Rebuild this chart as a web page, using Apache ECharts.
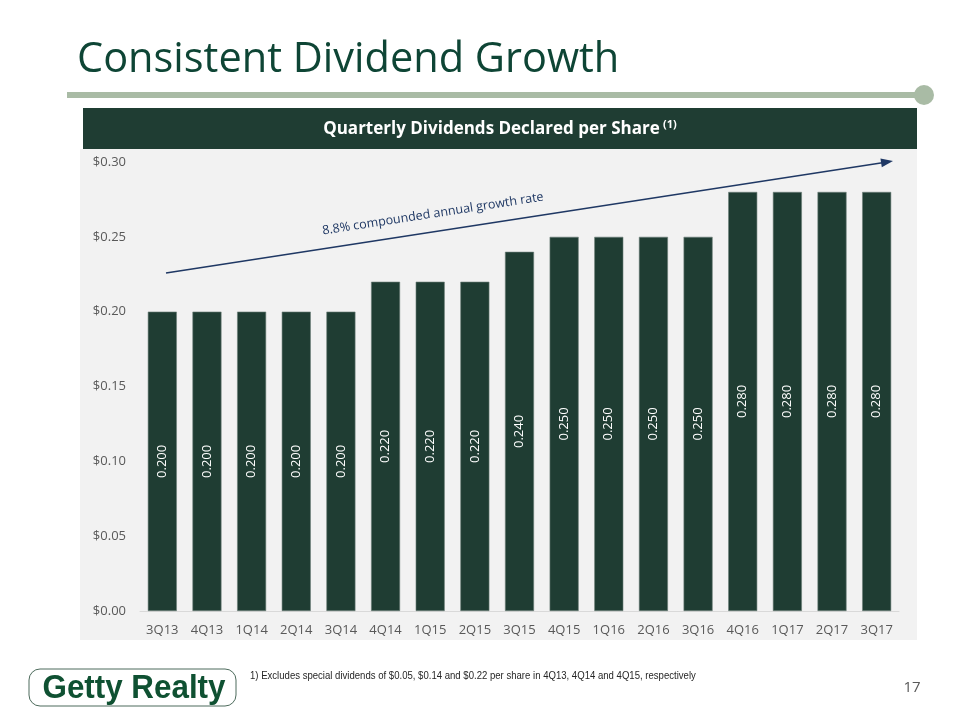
<!DOCTYPE html>
<html>
<head>
<meta charset="utf-8">
<script src="https://cdn.jsdelivr.net/npm/echarts@6/dist/echarts.min.js"></script>
<style>
html,body{margin:0;padding:0;background:#fff;}
#chart{width:960px;height:720px;}
</style>
</head>
<body>
<div id="chart"></div>
<script>
var categories = ['3Q13','4Q13','1Q14','2Q14','3Q14','4Q14','1Q15','2Q15','3Q15','4Q15','1Q16','2Q16','3Q16','4Q16','1Q17','2Q17','3Q17'];
var dividends = [0.200,0.200,0.200,0.200,0.200,0.220,0.220,0.220,0.240,0.250,0.250,0.250,0.250,0.280,0.280,0.280,0.280];
var yTicks = [0, 0.05, 0.10, 0.15, 0.20, 0.25, 0.30];
var titleText = 'Consistent Dividend Growth';
var panelTitle = 'Quarterly Dividends Declared per Share';
var growthText = '8.8% compounded annual growth rate';
var footnote = '1) Excludes special dividends of $0.05, $0.14 and $0.22 per share in 4Q13, 4Q14 and 4Q15, respectively';
var pageNum = '17';

var chart = echarts.init(document.getElementById('chart'), null, {renderer:'canvas'});
var ang = Math.atan2(273-161, 893-166);

var option = {
  animation: false,
  backgroundColor: '#ffffff',
  grid: {left: 140, right: 61, top: 162, bottom: 109, containLabel: false},
  xAxis: {
    type: 'category',
    data: categories,
    axisLine: {show: true, lineStyle: {color: '#d9d9d9', width: 1}},
    axisTick: {show: false},
    axisLabel: {color: '#595959', fontFamily: 'Open Sans', fontSize: 13, margin: 13, interval: 0}
  },
  yAxis: {
    type: 'value',
    min: yTicks[0],
    max: yTicks[yTicks.length-1],
    interval: 0.05,
    axisLine: {show: false},
    axisTick: {show: false},
    splitLine: {show: false},
    axisLabel: {color: '#595959', fontFamily: 'Open Sans', fontSize: 13, margin: 14,
      formatter: function(v){ return '$' + v.toFixed(2); }}
  },
  series: [{
    type: 'bar',
    data: dividends,
    barWidth: '65%',
    itemStyle: {color: '#1f3d33', borderColor: '#6d7f78', borderWidth: 0.6},
    label: {
      show: true, position: 'inside', rotate: 90,
      color: '#ffffff', fontFamily: 'Open Sans', fontSize: 13,
      formatter: function(p){ return p.value.toFixed(3); }
    },
    z: 3
  }],
  graphic: [
    {type:'rect', z:-10, shape:{x:80, y:149, width:837, height:491}, style:{fill:'#f2f2f2'}},
    {type:'rect', z:0, shape:{x:83, y:108, width:834, height:41}, style:{fill:'#1f3d33'}},
    {type:'text', z:1, x: 500, y: 129,
      style:{text: '{a|' + panelTitle + '} {s|(1)}', align:'center', verticalAlign:'middle', rich:{
        a:{fill:'#ffffff', fontFamily:'Open Sans', fontWeight:'bold', fontSize:17},
        s:{fill:'#ffffff', fontFamily:'Open Sans', fontWeight:'bold', fontSize:11, padding:[0,0,8,0]}
      }}},
    {type:'text', z:1, x: 77, y: 60,
      style:{text: titleText, fill:'#0e4535', fontFamily:'Open Sans', fontSize:41.5, verticalAlign:'middle'}},
    {type:'line', z:1, shape:{x1:67, y1:95, x2:922, y2:95}, style:{stroke:'#a9bba5', lineWidth:6}},
    {type:'circle', z:2, shape:{cx:924, cy:95, r:10}, style:{fill:'#a9bba5'}},
    {type:'line', z:5, shape:{x1:166, y1:273, x2:884, y2:162.5}, style:{stroke:'#1f3864', lineWidth:1.5}},
    {type:'polygon', z:5, shape:{points:[
      [893, 161],
      [893 - 12*Math.cos(ang) - 4.5*Math.sin(ang), 161 + 12*Math.sin(ang) - 4.5*Math.cos(ang)],
      [893 - 12*Math.cos(ang) + 4.5*Math.sin(ang), 161 + 12*Math.sin(ang) + 4.5*Math.cos(ang)]
    ]}, style:{fill:'#1f3864'}},
    {type:'text', z:5, x: 433, y: 214, rotation: ang,
      style:{text: growthText, fill:'#1f3864', fontFamily:'Open Sans', fontSize:12.5, align:'center', verticalAlign:'middle'}},
    {type:'rect', z:1, shape:{x:29, y:669, width:207, height:37, r:11}, style:{fill:'#ffffff', stroke:'#4d6b5c', lineWidth:1}},
    {type:'text', z:2, x: 134, y: 689, scaleX: 0.95,
      style:{text:'Getty Realty', fill:'#0f5132', fontFamily:'Liberation Sans', fontWeight:'bold', fontSize:33, align:'center', verticalAlign:'middle'}},
    {type:'text', z:2, x: 250, y: 676, scaleX: 0.87,
      style:{text: footnote, fill:'#262626', fontFamily:'Liberation Sans', fontSize:11, verticalAlign:'middle'}},
    {type:'text', z:2, x: 912, y: 688,
      style:{text: pageNum, fill:'#595959', fontFamily:'Open Sans', fontSize:15, align:'center', verticalAlign:'middle'}}
  ]
};
chart.setOption(option);
</script>
</body>
</html>
